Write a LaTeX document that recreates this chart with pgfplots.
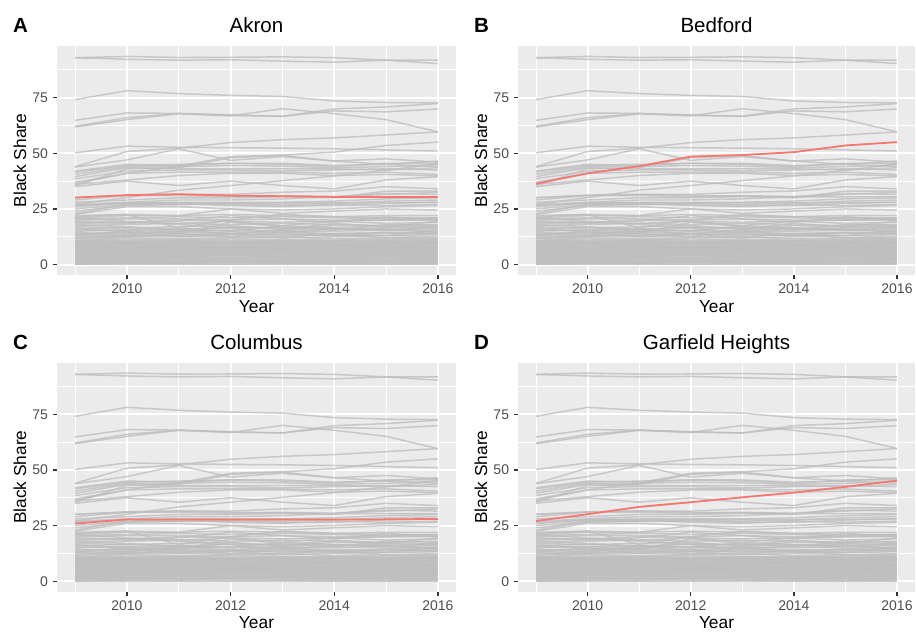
\documentclass[border=0pt]{standalone}
\usepackage{pgfplots}
\usepackage{pgfplotstable}
\usepackage{fontspec}
\setmainfont{Liberation Sans}
\pgfplotsset{compat=1.18}

\definecolor{ggbg}{HTML}{EBEBEB}
\definecolor{gg30}{HTML}{4D4D4D}
\definecolor{gg20}{HTML}{333333}
\definecolor{ggline}{HTML}{BEBEBE}
\definecolor{ggred}{HTML}{F8766D}

% one row per town, one column per year
\pgfplotstableread{
id 2009 2010 2011 2012 2013 2014 2015 2016
akr 30.1 31.2 31.6 31.0 30.7 30.4 30.4 30.4
bed 36.3 41.0 44.2 48.5 49.2 50.5 53.5 55.0
col 25.9 27.8 27.7 27.7 27.7 27.7 27.8 28.0
gar 27.1 30.1 33.4 35.5 37.7 39.8 42.4 45.2
u1 92.9 93.5 93.0 93.1 93.3 92.9 91.8 91.8
u2 92.9 92.2 91.8 92.0 91.4 90.9 91.8 90.3
u3 74.1 78.1 76.8 76.0 75.5 73.5 72.8 72.6
u4 64.8 68.1 67.9 67.2 66.6 69.9 70.8 72.3
u5 62.1 66.0 67.8 66.8 70.0 67.8 65.1 59.6
u6 61.8 65.1 67.8 67.0 66.6 69.0 68.6 69.9
u7 50.2 53.2 52.7 52.5 52.3 52.0 51.5 51.0
u8 44.0 50.8 52.3 54.8 56.1 56.9 58.2 59.6
u9 43.8 47.0 52.0 46.8 48.5 46.5 47.5 46.0
u10 42.0 45.0 44.5 45.5 45.0 44.0 45.5 45.5
u11 40.5 44.0 44.0 44.5 44.2 43.5 44.0 44.8
u12 39.5 43.5 43.0 43.0 43.0 43.0 42.5 43.5
u13 38.5 42.0 42.5 42.5 42.0 42.5 43.0 42.5
u14 37.0 41.0 41.5 41.5 41.5 41.0 41.5 40.5
u15 36.0 38.0 40.0 41.0 41.0 40.0 40.5 39.8
u16 35.0 37.5 35.5 37.5 35.5 34.0 38.0 39.5
u17 35.5 43.0 43.5 48.0 49.0 46.5 45.0 46.5
u18 41.5 44.5 45.0 45.5 45.5 44.5 45.0 44.0
m1 30.0 31.0 31.0 30.5 31.0 30.5 31.5 32.5
m2 29.0 31.0 31.5 31.5 32.5 33.0 35.0 34.0
m3 28.0 29.0 30.0 30.0 30.5 30.0 33.0 33.0
m4 27.0 28.0 29.0 29.0 29.5 30.5 32.0 31.5
m5 26.5 27.5 28.0 28.0 28.0 28.5 29.5 30.0
m6 25.0 27.0 27.0 27.5 27.0 27.5 28.5 29.0
m7 24.0 26.5 27.0 27.0 26.5 26.5 27.5 28.0
m8 23.0 27.0 27.5 26.5 26.0 27.0 26.5 27.0
m9 22.5 26.0 26.0 25.0 24.5 25.0 26.0 26.5
m10 22.0 22.5 22.0 25.0 23.0 24.0 25.0 24.5
m11 21.5 22.5 16.5 20.0 22.5 21.5 22.0 22.0
m12 21.0 22.0 22.0 22.5 22.0 21.5 21.0 21.0
m13 20.5 21.0 21.5 21.0 21.5 21.0 20.5 21.0
m14 20.0 20.5 20.5 20.0 20.5 20.0 20.0 20.5
m15 19.5 19.0 20.0 19.5 19.0 19.5 20.0 20.0
m16 18.5 19.0 18.5 19.5 17.5 19.5 18.5 19.0
m17 17.5 18.0 18.5 18.0 18.5 18.0 17.5 18.0
m18 17.0 16.5 17.0 17.5 16.0 17.5 17.0 17.0
m19 16.0 16.5 16.0 16.5 16.5 16.0 16.5 16.5
m20 15.5 15.5 16.0 15.0 15.5 16.5 15.5 16.0
m21 15.0 15.5 15.0 15.5 15.0 15.0 15.5 15.0
m22 14.0 14.5 14.5 14.0 14.5 14.0 14.5 14.5
m23 13.5 14.0 13.5 14.0 13.0 13.5 14.0 14.0
m24 13.0 13.0 13.0 13.5 13.5 13.0 13.0 13.5
m25 12.5 12.5 12.5 12.5 12.0 12.5 13.0 12.5
m26 12.0 12.0 11.5 12.0 12.5 11.5 12.0 12.0
m27 11.5 13.5 15.0 17.0 16.0 18.5 17.0 19.5
m28 18.0 17.0 15.5 14.0 15.5 13.0 14.5 13.5
m29 13.0 15.0 14.0 19.0 17.0 15.5 18.0 17.5
m30 21.0 19.5 18.0 16.5 14.0 13.5 12.0 11.5
m31 10.5 12.5 14.0 12.5 14.5 16.0 15.5 17.0
m32 16.5 14.5 12.5 13.5 12.0 14.0 13.0 15.5
m33 19.0 18.5 19.5 22.0 20.5 19.0 21.5 20.0
m34 14.5 13.0 16.0 15.0 17.5 16.5 16.0 14.5
d1 0 0 0 0 0 0 0 0
d2 0.4 0.5 0.4 0.3 0.5 0.4 0.5 0.4
d3 0.9 0.8 1.0 0.9 0.8 1.0 0.9 0.9
d4 1.3 1.4 1.3 1.4 1.2 1.4 1.3 1.4
d5 1.8 1.7 1.9 1.8 1.9 1.7 1.8 1.9
d6 2.2 2.3 2.2 2.1 2.3 2.2 2.3 2.2
d7 2.7 2.6 2.7 2.8 2.6 2.7 2.8 2.7
d8 3.1 3.2 3.1 3.2 3.1 3.2 3.1 3.2
d9 3.6 3.5 3.7 3.6 3.5 3.6 3.7 3.6
d10 4.0 4.1 4.0 4.1 4.0 4.1 4.1 4.0
d11 4.5 4.4 4.5 4.6 4.5 4.5 4.4 4.6
d12 4.9 5.0 4.9 4.9 5.0 4.9 5.0 5.0
d13 5.4 5.3 5.4 5.4 5.3 5.5 5.4 5.3
d14 5.8 5.9 5.8 5.8 5.9 5.8 5.8 5.9
d15 6.3 6.2 6.3 6.3 6.2 6.3 6.3 6.2
d16 6.7 6.8 6.7 6.7 6.8 6.7 6.8 6.7
d17 7.2 7.1 7.2 7.2 7.1 7.2 7.1 7.2
d18 7.6 7.7 7.6 7.6 7.7 7.6 7.7 7.6
d19 8.1 8.0 8.1 8.1 8.0 8.1 8.0 8.1
d20 8.5 8.6 8.5 8.5 8.6 8.5 8.6 8.5
d21 9.0 8.9 9.0 9.0 8.9 9.0 8.9 9.0
d22 9.4 9.5 9.4 9.4 9.5 9.4 9.5 9.4
d23 9.9 9.8 9.9 9.9 9.8 10.0 9.9 9.8
d24 10.3 10.4 10.3 10.4 10.3 10.4 10.3 10.4
d25 10.8 10.7 10.9 10.8 10.8 10.7 10.9 10.8
d26 11.0 11.3 11.1 11.5 11.2 11.0 11.4 11.2
d27 3.0 6.0 5.0 8.0 6.5 9.0 7.0 10.0
d28 9.5 7.0 8.5 5.5 7.5 4.0 6.0 3.5
d29 0.2 0.7 0.6 1.1 0.7 0.6 0.3 0.6
d30 1.1 1.6 1.1 1.6 1.6 1.1 1.6 1.1
d31 2.0 2.5 2.5 2.0 2.1 2.5 2.0 2.5
d32 2.9 2.9 3.4 2.9 3.4 3.0 3.4 2.9
d33 3.8 3.8 3.9 4.3 3.8 3.9 3.9 4.3
d34 4.7 4.7 4.2 4.7 4.8 4.3 4.7 4.8
d35 5.1 5.6 5.1 5.6 5.1 5.2 5.6 5.6
d36 6.0 6.0 6.0 6.1 6.0 6.1 6.0 6.0
d37 6.9 6.5 6.9 6.9 6.5 6.9 6.5 6.9
d38 7.4 7.4 7.8 7.4 7.4 7.8 7.4 7.4
d39 8.3 8.3 8.3 7.9 8.3 8.3 8.3 7.9
d40 8.8 9.2 8.8 8.8 9.2 8.8 9.2 9.2
d41 9.7 9.7 9.6 9.7 10.1 9.7 9.7 10.1
d42 10.6 10.1 10.6 10.1 10.6 10.6 10.6 10.6
}\greyraw
\pgfplotstabletranspose[colnames from=id]\greyT\greyraw
\pgfplotstablegetcolsof{\greyT}
\pgfmathtruncatemacro\ncols{\pgfplotsretval-1}

\newcommand\greylines{%
  \pgfplotsinvokeforeach{1,...,\ncols}{%
    \addplot[greyline] table[x expr=\coordindex+2009, y index=##1]{\greyT};}}

\pgfplotsset{
  greyline/.style={ggline, opacity=0.8, line width=1.1pt, line join=round, mark=none},
  redline/.style={ggred, line width=1.3pt, line join=round, mark=none},
  every axis title/.style={at={(0.5,1)}, anchor=base, yshift=10.1pt,
    font=\fontsize{15.4}{18}\selectfont},
  every axis x label/.style={at={(0.5,0)}, anchor=base, yshift=-27.8pt,
    font=\fontsize{13}{15}\selectfont},
  every axis y label/.style={at={(-0.0775,0.5)}, anchor=base, rotate=90,
    font=\fontsize{13}{15}\selectfont},
  ggpanel/.style={
    scale only axis, height=171.75pt,
    xmin=2008.65, xmax=2016.35, ymin=-4.675, ymax=98.175,
    xtick={2010,2012,2014,2016}, ytick={0,25,50,75},
    minor xtick={2009,2011,2013,2015}, minor ytick={12.5,37.5,62.5,87.5},
    grid=both,
    major grid style={white, line width=1.5pt},
    minor grid style={white, line width=0.75pt},
    axis background/.style={fill=ggbg},
    axis line style={draw=none},
    tick pos=left, tick align=outside,
    major tick length=3.2pt, minor tick length=0pt,
    tick style={gg20, line width=1pt},
    tick label style={font=\fontsize{10.5}{12}\selectfont, text=gg30},
    /pgf/number format/assume math mode=true,
    /pgf/number format/1000 sep={},
    xlabel={Year}, ylabel={Black Share},
  },
}

\begin{document}
\begin{tikzpicture}
\useasboundingbox (0,0) rectangle (687pt,473.25pt);

\begin{axis}[ggpanel, name=pA, width=299.25pt, at={(42.75pt,267pt)}, anchor=south west, title={Akron}]
  \greylines
  \addplot[redline] coordinates {(2009,30.1) (2010,31.2) (2011,31.6) (2012,31.0) (2013,30.7) (2014,30.4) (2015,30.4) (2016,30.4)};
\end{axis}

\begin{axis}[ggpanel, name=pB, width=297.75pt, at={(388.5pt,267pt)}, anchor=south west, title={Bedford}]
  \greylines
  \addplot[redline] coordinates {(2009,36.3) (2010,41.0) (2011,44.2) (2012,48.5) (2013,49.2) (2014,50.5) (2015,53.5) (2016,55.0)};
\end{axis}

\begin{axis}[ggpanel, name=pC, width=299.25pt, at={(42.75pt,29.5pt)}, anchor=south west, title={Columbus}]
  \greylines
  \addplot[redline] coordinates {(2009,25.9) (2010,27.8) (2011,27.7) (2012,27.7) (2013,27.7) (2014,27.7) (2015,27.8) (2016,28.0)};
\end{axis}

\begin{axis}[ggpanel, name=pD, width=297.75pt, at={(388.5pt,29.5pt)}, anchor=south west, title={Garfield Heights}]
  \greylines
  \addplot[redline] coordinates {(2009,27.1) (2010,30.1) (2011,33.4) (2012,35.5) (2013,37.7) (2014,39.8) (2015,42.4) (2016,45.2)};
\end{axis}

\foreach \p/\t in {pA/A, pB/B, pC/C, pD/D}
  \node[anchor=base west, inner sep=0pt, font=\bfseries\fontsize{15.4}{18}\selectfont]
    at ([xshift=-33.2pt, yshift=10.1pt]\p.north west) {\t};
\end{tikzpicture}
\end{document}
